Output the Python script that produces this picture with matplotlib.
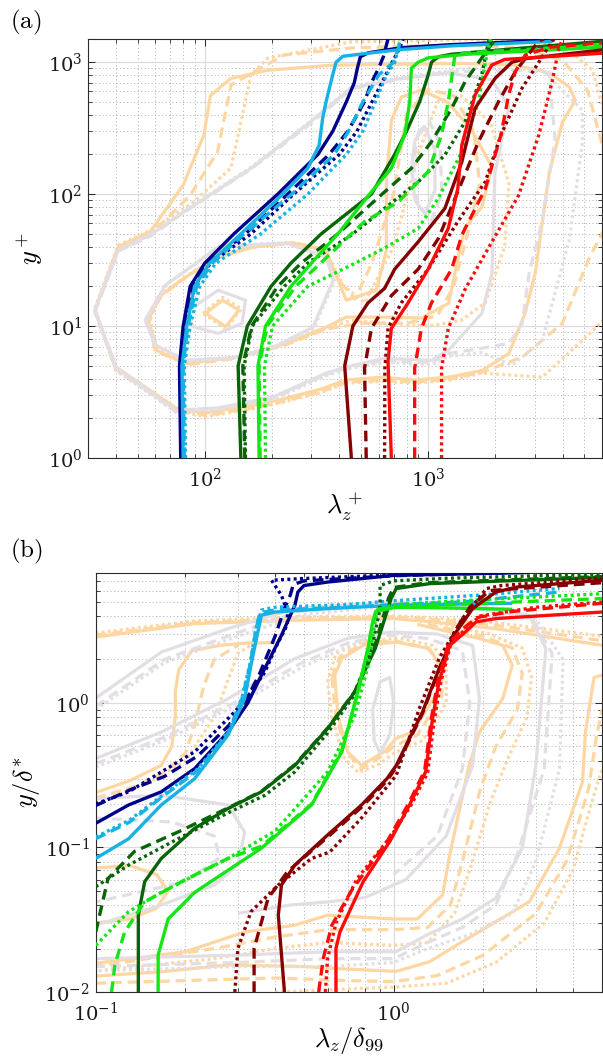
import numpy as np
import matplotlib
matplotlib.use("Agg")
import matplotlib.pyplot as plt
from matplotlib.ticker import LogLocator, NullFormatter, LogFormatterSciNotation

plt.rcParams['mathtext.fontset'] = 'cm'
plt.rcParams['font.family'] = ['DejaVu Serif']
plt.rcParams['axes.formatter.use_mathtext'] = True

# ---------------- colours ----------------
C_NAVY = '#00008B'
C_LBLUE = '#16B2E4'
C_DGREEN = '#076407'
C_LIME = '#14E614'
C_DRED = '#870000'
C_RED = '#FF0A0A'
C_OR = '#FDD6A2'
C_GR = '#E2DEE4'

# =============== PANEL (a) : lambda_z^+ vs y^+ ===============
A_XLIM = (30, 6000)
A_YLIM = (1, 1500)

# coloured curves (x = lambda_z^+, y = y^+)
A_NAVY_S_X = [78, 77, 80, 86, 100, 135, 212, 321, 374, 430, 467, 482, 497, 540, 760, 1276, 3600]
A_NAVY_S_Y = [1, 5, 10, 20, 30, 50, 100, 200, 300, 500, 700, 900, 1100, 1180, 1290, 1360, 1470]
A_NAVY_D_X = [79, 78, 81, 88, 103, 152, 235, 360, 437, 518, 557, 600, 630, 661]
A_NAVY_D_Y = [1, 5, 10, 20, 30, 50, 100, 200, 300, 500, 700, 900, 1100, 1500]
A_NAVY_P_X = [80, 79, 82, 90, 106, 161, 250, 400, 480, 560, 620, 690, 740, 773]
A_NAVY_P_Y = [1, 5, 10, 20, 30, 50, 100, 200, 300, 500, 700, 1000, 1250, 1500]

A_LB_S_X = [80, 79, 83, 90, 105, 145, 223, 289, 325, 337, 349, 374, 387, 415, 538, 760, 1276, 3600]
A_LB_S_Y = [1, 5, 10, 20, 30, 50, 100, 157, 235, 376, 502, 805, 1000, 1110, 1170, 1250, 1330, 1440]
A_LB_D_X = [81, 80, 84, 92, 108, 150, 245, 380, 440, 510, 600, 700, 760]
A_LB_D_Y = [1, 5, 10, 20, 30, 50, 100, 200, 300, 500, 800, 1000, 1500]
A_LB_P_X = [82, 81, 86, 95, 112, 178, 289, 430, 510, 580, 650, 710, 750]
A_LB_P_Y = [1, 5, 10, 20, 30, 50, 100, 200, 300, 500, 800, 1000, 1500]

A_DG_S_X = [145, 141, 155, 198, 243, 332, 557, 708, 800, 915, 1000, 1035, 1110, 1274, 2000, 6000]
A_DG_S_Y = [1, 5, 10, 20, 30, 50, 100, 200, 300, 500, 800, 1000, 1100, 1150, 1230, 1440]
A_DG_D_X = [151, 148, 162, 212, 270, 394, 638, 841, 1035, 1274, 1463, 1864, 2000]
A_DG_D_Y = [1, 5, 10, 20, 30, 50, 104, 157, 250, 448, 713, 1277, 1500]
A_DG_P_X = [152, 150, 163, 227, 289, 453, 638, 902, 1188, 1463, 1738, 1864, 1900]
A_DG_P_Y = [1, 5, 10, 20, 30, 49, 78, 124, 198, 354, 802, 1450, 1500]

A_LI_S_X = [175, 173, 187, 243, 300, 394, 557, 684, 785, 827, 841, 902, 1000, 1500, 6000]
A_LI_S_Y = [1, 5, 10, 20, 30, 50, 104, 157, 281, 502, 900, 1000, 1080, 1150, 1300]
A_LI_D_X = [177, 175, 190, 255, 330, 453, 519, 733, 1000, 1148, 1230, 1318, 1500, 6000]
A_LI_D_Y = [1, 5, 10, 20, 30, 50, 62, 87, 148, 281, 502, 1135, 1180, 1350]
A_LI_P_X = [187, 185, 201, 289, 453, 638, 902, 1110, 1415, 1680, 1802, 1850, 1900]
A_LI_P_Y = [1, 5, 10, 20, 29, 39, 55, 93, 210, 502, 1000, 1200, 1500]

A_DR_S_X = [453, 423, 460, 538, 638, 708, 902, 1188, 1415, 1622, 1995, 2372, 2723, 6000]
A_DR_S_Y = [1, 5, 10, 15, 19.3, 27, 43.5, 78, 176, 448, 756, 1000, 1064, 1240]
A_DR_D_X = [528, 519, 557, 684, 902, 1110, 1415, 1680, 2065, 2455, 3128, 3300]
A_DR_D_Y = [1, 4.8, 9.6, 17, 27, 46, 124, 250, 502, 849, 1450, 1500]
A_DR_P_X = [638, 640, 661, 758, 1000, 1357, 1802, 2117, 2630, 3128, 3590, 3700]
A_DR_P_Y = [1, 4.8, 9.6, 15, 27, 62, 124, 281, 635, 1000, 1450, 1500]

A_RE_S_X = [684, 661, 684, 813, 1000, 1230, 1357, 1415, 1622, 1928, 2200, 6000]
A_RE_S_Y = [1, 5.4, 9.6, 15, 27, 55, 110, 236, 565, 954, 1050, 1170]
A_RE_D_X = [870, 870, 933, 1035, 1274, 1415, 1802, 2117, 2293, 2455, 2723, 3500, 6000]
A_RE_D_Y = [1, 4.8, 9.6, 15, 27, 49, 110, 281, 565, 849, 1135, 1300, 1400]
A_RE_P_X = [1148, 1148, 1230, 1463, 1928, 2541, 3128, 3590, 3846, 4000]
A_RE_P_Y = [1, 4.8, 9.6, 19, 43.5, 98, 281, 713, 1277, 1500]

# background contours, panel (a)
A_OR_S_OUT_X = [32.2, 41, 57, 80, 99, 106, 131, 192, 372, 1414, 2448, 3483, 4283, 4557, 3985, 3483, 3012, 2714,
                2300, 1740, 1236, 869, 617, 430, 325, 188, 101, 74, 40, 32.2]
A_OR_S_OUT_Y = [13.2, 40, 52, 117, 280, 560, 755, 870, 950, 980, 950, 830, 650, 515, 350, 145, 25, 12.5,
                6.2, 4.6, 4.1, 3.9, 4.1, 3.9, 3.3, 2.6, 2.2, 2.4, 4.9, 13.2]
A_OR_D_OUT_X = [32.2, 41, 57, 86, 114, 131, 226, 452, 1414, 2634, 3985, 5160, 6100, 6100, 5270, 3985, 2634, 1740,
                1236, 869, 617, 430, 325, 188, 101, 74, 40, 32.2]
A_OR_D_OUT_Y = [12.8, 37.6, 49, 98, 209, 672, 1133, 1283, 1360, 1283, 1040, 617, 216, 53, 33, 10.5, 5.8, 4.47,
                3.97, 3.76, 3.88, 3.76, 3.14, 2.5, 2.1, 2.34, 4.7, 12.8]
A_OR_P_OUT_X = [32.2, 41, 57, 89, 131, 161, 192, 452, 1570, 3985, 5430, 6100, 6100, 4900, 3240, 1740, 1236, 869,
                617, 430, 325, 188, 101, 74, 40, 32.2]
A_OR_P_OUT_Y = [13.7, 41, 53, 87, 158, 802, 1078, 1427, 1480, 1360, 875, 434, 11.1, 7.8, 4.1, 4.4, 3.88, 3.7,
                3.8, 3.7, 3.1, 2.47, 2.05, 2.3, 4.6, 13.7]

A_GR_S_OUT_X = [32.2, 41, 57, 80, 161, 299, 452, 760, 1236, 1929, 2300, 1990, 1929, 1740, 1236, 1036, 637, 430,
                349, 202, 115, 74, 40, 32.2]
A_GR_S_OUT_Y = [13.2, 37.6, 49, 73, 157, 356, 640, 755, 830, 735, 460, 145, 25, 12.5, 6.6, 5.5, 5.7, 4.9,
                4.4, 2.9, 2.4, 2.3, 4.9, 13.2]
A_GR_D_OUT_X = [32.2, 41, 57, 80, 161, 299, 452, 760, 1236, 2634, 3483, 3700, 3240, 2830, 2634, 2300, 1740, 1236,
                1036, 637, 430, 349, 202, 115, 74, 40, 32.2]
A_GR_D_OUT_Y = [13, 37, 48, 72, 155, 344, 627, 747, 843, 870, 830, 257, 63, 25, 10.5, 7.4, 6.8, 6.2,
                5.3, 5.5, 4.8, 4.3, 2.84, 2.38, 2.26, 4.8, 13]
A_GR_P_OUT_X = [32.2, 41, 57, 80, 161, 299, 452, 760, 1570, 3240, 4900, 4900, 4283, 3240, 2370, 1740, 1236, 1036,
                637, 430, 349, 202, 115, 74, 40, 32.2]
A_GR_P_OUT_Y = [13.4, 38, 50, 74, 160, 359, 649, 773, 906, 870, 434, 244, 45, 7.8, 5.05, 6.3, 5.9, 5.1,
                5.3, 4.7, 4.2, 2.78, 2.33, 2.22, 4.7, 13.4]

A_OR_S_MID_X = [56, 62, 82, 115, 164, 248, 349, 379, 430, 586, 650, 650, 685, 760, 934, 1236, 1568, 1929, 1740,
                1459, 1315, 1236, 934, 617, 430, 349, 231, 137, 82, 60, 56]
A_OR_S_MID_Y = [11.1, 16.6, 23.5, 33.3, 39.7, 42.6, 37.6, 26.5, 15.7, 18.7, 37.6, 128, 365, 546, 617, 490, 304,
                161, 80, 56, 25.2, 14.9, 11.5, 11.7, 11.7, 9.8, 7.4, 5.8, 5.2, 6.6, 11.1]
A_OR_D_MID_X = [56, 64, 84, 118, 168, 250, 340, 400, 470, 560, 700, 800, 1000, 1300, 1600, 1700, 1500, 1300,
                1100, 800, 500, 350, 230, 140, 84, 60, 56]
A_OR_D_MID_Y = [11.5, 17, 24, 34, 40, 43, 38, 22, 16, 30, 100, 400, 620, 560, 300, 120, 50, 20,
                12, 10.5, 10.5, 9.5, 7.2, 5.7, 5.1, 6.5, 11.5]
A_OR_P_MID_X = [57, 63, 83, 116, 166, 250, 345, 420, 520, 700, 900, 1100, 1400, 1900, 2300, 2200, 1800, 1400,
                1000, 700, 450, 345, 232, 138, 83, 61, 57]
A_OR_P_MID_Y = [11.3, 17, 24, 34, 40, 43, 37, 20, 15, 40, 200, 500, 560, 350, 120, 40, 15, 11,
                10, 10.5, 11, 9.6, 7.3, 5.8, 5.2, 6.6, 11.3]

A_GR_S_MID_X = [54, 66.6, 115, 231, 349, 376, 305, 202, 137, 82, 60, 54]
A_GR_S_MID_Y = [11.1, 20.4, 39.7, 42.6, 33.3, 22.3, 9.8, 6.9, 5.8, 5.5, 7.2, 11.1]
A_GR_P_MID_X = [55, 68, 117, 233, 352, 380, 308, 204, 138, 83, 61, 55]
A_GR_P_MID_Y = [11.4, 21, 40.5, 43, 33, 22, 9.6, 6.8, 5.7, 5.4, 7.1, 11.4]

A_GR_S_LOOP_X = [872, 966, 1072, 1072, 966, 872, 843, 872]
A_GR_S_LOOP_Y = [256, 323, 216, 107, 71, 90, 161, 256]
A_GR_D_LOOP_X = [900, 1010, 1130, 1150, 1030, 900, 860, 900]
A_GR_D_LOOP_Y = [290, 360, 240, 100, 62, 85, 170, 290]

A_OR_S_IN_X = [101, 120, 142, 124, 101]
A_OR_S_IN_Y = [12.5, 15.7, 13.2, 9.9, 12.5]
A_OR_P_IN_X = [98, 120, 146, 124, 98]
A_OR_P_IN_Y = [12.5, 16.5, 13.5, 9.5, 12.5]
A_GR_S_IN_X = [84.5, 115, 152, 147, 115, 88, 84.5]
A_GR_S_IN_Y = [13.2, 18.7, 15.7, 10.5, 8.8, 9.9, 13.2]

# =============== PANEL (b) : lambda_z/delta99 vs y/delta* ===============
B_XLIM = (0.1, 5)
B_YLIM = (0.01, 8)

B_NAVY_S_X = [0.1, 0.129, 0.166, 0.215, 0.278, 0.324, 0.36, 0.42, 0.466, 0.477, 0.50, 0.60, 1.0, 2.85]
B_NAVY_S_Y = [0.147, 0.197, 0.243, 0.352, 0.63, 1.0, 1.56, 2.94, 4.74, 5.86, 6.5, 6.87, 7.64, 8.0]
B_NAVY_D_X = [0.1, 0.13, 0.17, 0.22, 0.28, 0.32, 0.355, 0.40, 0.43, 0.45, 0.46, 0.50, 1.0, 2.5]
B_NAVY_D_Y = [0.195, 0.25, 0.31, 0.43, 0.70, 1.05, 1.6, 2.9, 4.5, 5.6, 6.6, 7.0, 7.6, 8.0]
B_NAVY_P_X = [0.1, 0.129, 0.215, 0.293, 0.332, 0.37, 0.40, 0.44, 0.44, 0.42, 0.389, 0.49, 1.0, 2.0]
B_NAVY_P_Y = [0.2, 0.243, 0.46, 0.87, 1.19, 1.64, 2.38, 3.5, 4.26, 5.56, 7.07, 7.26, 7.7, 8.0]

B_LB_S_X = [0.1, 0.129, 0.166, 0.215, 0.278, 0.316, 0.332, 0.35, 0.36, 0.40, 0.60, 1.0, 1.7, 2.5]
B_LB_S_Y = [0.084, 0.115, 0.197, 0.30, 0.60, 1.07, 1.83, 3.1, 4.05, 4.26, 4.5, 4.74, 4.85, 4.9]
B_LB_D_X = [0.1, 0.13, 0.17, 0.22, 0.28, 0.31, 0.33, 0.345, 0.355, 0.40, 0.7, 1.0, 1.7, 3.6]
B_LB_D_Y = [0.115, 0.15, 0.23, 0.34, 0.63, 1.08, 1.85, 3.2, 4.2, 4.4, 4.6, 4.8, 5.0, 5.86]
B_LB_P_X = [0.1, 0.13, 0.17, 0.22, 0.28, 0.31, 0.33, 0.345, 0.36, 0.40, 0.7, 1.0, 2.0, 3.6]
B_LB_P_Y = [0.118, 0.155, 0.235, 0.35, 0.64, 1.1, 1.9, 3.3, 4.4, 4.6, 4.8, 5.1, 5.6, 6.2]

B_DG_S_X = [0.139, 0.139, 0.146, 0.166, 0.215, 0.278, 0.36, 0.466, 0.6, 0.74, 0.867, 0.98, 1.02, 1.32, 5.0]
B_DG_S_Y = [0.01, 0.034, 0.058, 0.084, 0.136, 0.186, 0.243, 0.37, 0.666, 1.19, 2.38, 5.28, 6.2, 6.7, 7.4]
B_DG_D_X = [0.1, 0.11, 0.135, 0.189, 0.278, 0.36, 0.466, 0.6, 0.74, 0.86, 0.96, 1.0, 1.3, 5.0]
B_DG_D_Y = [0.026, 0.061, 0.094, 0.128, 0.188, 0.245, 0.375, 0.67, 1.2, 2.4, 5.3, 6.3, 6.8, 7.5]
B_DG_P_X = [0.1, 0.129, 0.189, 0.28, 0.37, 0.466, 0.6, 0.73, 0.84, 0.90, 0.90, 1.0, 1.5, 5.0]
B_DG_P_Y = [0.0535, 0.0756, 0.115, 0.175, 0.23, 0.334, 0.62, 1.1, 2.3, 4.5, 6.5, 7.0, 7.3, 7.8]

B_LI_S_X = [0.162, 0.162, 0.175, 0.215, 0.36, 0.53, 0.67, 0.757, 0.82, 0.85, 0.87, 1.02, 1.5, 2.5]
B_LI_S_Y = [0.01, 0.018, 0.032, 0.049, 0.099, 0.197, 0.46, 1.19, 2.38, 3.64, 4.3, 4.6, 4.55, 4.45]
B_LI_D_X = [0.113, 0.116, 0.125, 0.146, 0.2, 0.278, 0.36, 0.53, 0.67, 0.76, 0.82, 0.85, 0.9, 1.32, 5.0]
B_LI_D_Y = [0.01, 0.0154, 0.026, 0.042, 0.06, 0.084, 0.102, 0.2, 0.47, 1.2, 2.4, 3.6, 4.5, 4.74, 5.28]
B_LI_P_X = [0.1, 0.129, 0.166, 0.278, 0.4, 0.6, 0.74, 0.82, 0.86, 0.88, 1.0, 2.0, 5.0]
B_LI_P_Y = [0.021, 0.036, 0.049, 0.084, 0.13, 0.334, 0.82, 1.8, 3.3, 4.4, 4.8, 5.2, 5.7]

B_DR_S_X = [0.43, 0.41, 0.42, 0.466, 0.6, 0.78, 0.95, 1.02, 1.25, 1.42, 1.62, 1.84, 2.2, 2.6, 5.0]
B_DR_S_Y = [0.01, 0.034, 0.055, 0.0756, 0.122, 0.197, 0.30, 0.37, 0.87, 1.73, 3.1, 4.5, 5.86, 6.35, 7.07]
B_DR_D_X = [0.34, 0.34, 0.379, 0.44, 0.6, 0.78, 0.95, 1.02, 1.25, 1.42, 1.6, 1.8, 2.1, 5.0]
B_DR_D_Y = [0.01, 0.02, 0.0446, 0.068, 0.118, 0.19, 0.29, 0.36, 0.85, 1.7, 3.1, 4.6, 6.0, 6.8]
B_DR_P_X = [0.293, 0.30, 0.332, 0.41, 0.53, 0.61, 0.78, 1.02, 1.22, 1.42, 1.7, 2.05, 2.3, 5.0]
B_DR_P_Y = [0.01, 0.02, 0.036, 0.055, 0.084, 0.093, 0.16, 0.316, 0.92, 2.03, 3.84, 6.2, 6.5, 7.3]

B_RE_S_X = [0.64, 0.64, 0.66, 0.79, 0.97, 1.13, 1.28, 1.35, 1.42, 1.54, 1.74, 1.89, 2.2, 5.0]
B_RE_S_Y = [0.01, 0.02, 0.026, 0.058, 0.11, 0.197, 0.334, 0.78, 1.4, 2.5, 3.1, 3.64, 3.84, 4.26]
B_RE_D_X = [0.56, 0.58, 0.62, 0.72, 0.95, 1.12, 1.27, 1.34, 1.41, 1.53, 1.72, 1.9, 2.5, 5.0]
B_RE_D_Y = [0.01, 0.017, 0.029, 0.05, 0.11, 0.2, 0.34, 0.8, 1.45, 2.6, 3.3, 3.9, 4.3, 4.9]
B_RE_P_X = [0.59, 0.60, 0.64, 0.75, 0.98, 1.15, 1.3, 1.37, 1.44, 1.55, 1.75, 1.95, 3.0, 5.0]
B_RE_P_Y = [0.01, 0.017, 0.03, 0.06, 0.12, 0.2, 0.33, 0.77, 1.4, 2.5, 3.3, 4.0, 4.6, 5.0]

# background contours, panel (b)
B_OR_S_TOP_X = [0.1, 0.215, 0.466, 1.0, 1.35, 2.2, 5.0]
B_OR_S_TOP_Y = [2.86, 3.54, 3.74, 3.84, 3.64, 3.27, 2.51]
B_OR_S_IN_X = [1.2, 1.94, 2.32, 2.5, 2.32, 1.94, 1.79, 1.54, 1.46, 1.2, 1.0, 0.6, 0.466, 0.316, 0.2, 0.1]
B_OR_S_IN_Y = [3.5, 2.79, 2.51, 1.83, 1.07, 0.63, 0.37, 0.088, 0.047, 0.032, 0.032, 0.034, 0.029, 0.026, 0.019, 0.0158]
B_OR_S_OUT_X = [0.1, 0.166, 0.278, 0.5, 0.61, 1.02, 1.32, 1.7, 2.85, 3.6, 4.3, 4.4, 4.7, 5.0]
B_OR_S_OUT_Y = [0.0129, 0.0138, 0.0154, 0.015, 0.0146, 0.0139, 0.0162, 0.0223, 0.0421, 0.099, 0.284, 0.63, 1.5, 1.56]
B_OR_S_MID_X = [0.634, 0.67, 0.79, 1.02, 1.32, 1.42, 1.4, 1.16, 1.02, 0.93, 0.78, 0.70, 0.65, 0.634]
B_OR_S_MID_Y = [1.56, 2.03, 2.51, 2.64, 2.38, 1.83, 1.19, 0.63, 0.57, 0.46, 0.37, 0.46, 0.82, 1.56]
B_OR_S_LEFT_X = [0.1, 0.13, 0.166, 0.18, 0.185, 0.185, 0.19, 0.21, 0.26, 0.32, 0.4]
B_OR_S_LEFT_Y = [0.24, 0.29, 0.37, 0.5, 0.8, 1.2, 1.7, 2.3, 2.5, 2.6, 2.62]
B_OR_S_LOOP_X = [0.1, 0.13, 0.16, 0.175, 0.16, 0.13, 0.1]
B_OR_S_LOOP_Y = [0.072, 0.075, 0.065, 0.05, 0.038, 0.032, 0.03]

B_OR_D_TOP_X = [0.1, 0.215, 0.466, 1.0, 1.35, 2.2, 5.0]
B_OR_D_TOP_Y = [2.95, 3.6, 3.85, 3.95, 3.8, 3.45, 2.7]
B_OR_D_IN_X = [1.3, 2.0, 2.5, 2.7, 2.6, 2.2, 1.95, 1.7, 1.55, 1.3, 1.0, 0.6, 0.4, 0.25, 0.1]
B_OR_D_IN_Y = [3.5, 2.9, 2.4, 1.6, 0.9, 0.5, 0.25, 0.08, 0.04, 0.028, 0.027, 0.027, 0.024, 0.02, 0.015]
B_OR_D_OUT_X = [0.1, 0.2, 0.4, 0.7, 1.0, 1.4, 2.0, 3.0, 3.8, 4.5, 4.8, 5.0]
B_OR_D_OUT_Y = [0.0115, 0.012, 0.0125, 0.012, 0.0118, 0.013, 0.018, 0.035, 0.08, 0.25, 0.6, 0.9]
B_OR_D_MID_X = [0.62, 0.66, 0.8, 1.0, 1.3, 1.45, 1.45, 1.2, 1.0, 0.9, 0.78, 0.70, 0.64, 0.62]
B_OR_D_MID_Y = [1.5, 2.1, 2.6, 2.7, 2.4, 1.8, 1.1, 0.6, 0.5, 0.42, 0.35, 0.45, 0.8, 1.5]
B_OR_D_LEFT_X = [0.1, 0.14, 0.17, 0.2, 0.215, 0.23, 0.25, 0.3]
B_OR_D_LEFT_Y = [0.22, 0.27, 0.33, 0.45, 0.7, 1.3, 2.0, 2.5]

B_OR_P_TOP_X = [0.1, 0.215, 0.466, 1.0, 1.35, 2.2, 5.0]
B_OR_P_TOP_Y = [3.05, 3.7, 3.95, 4.0, 3.9, 3.6, 2.9]
B_OR_P_IN_X = [1.3, 2.1, 2.7, 2.9, 2.8, 2.4, 2.1, 1.8, 1.6, 1.3, 1.0, 0.6, 0.4, 0.25, 0.1]
B_OR_P_IN_Y = [3.7, 3.0, 2.4, 1.5, 0.8, 0.4, 0.2, 0.07, 0.035, 0.022, 0.021, 0.022, 0.02, 0.017, 0.014]
B_OR_P_OUT_X = [0.4, 0.7, 1.0, 1.5, 2.2, 3.2, 4.0, 4.6, 5.0]
B_OR_P_OUT_Y = [0.01, 0.0105, 0.0108, 0.0115, 0.016, 0.03, 0.07, 0.2, 0.35]
B_OR_P_MID_X = [0.6, 0.64, 0.8, 1.05, 1.35, 1.5, 1.5, 1.25, 1.0, 0.9, 0.76, 0.68, 0.62, 0.6]
B_OR_P_MID_Y = [1.4, 2.2, 2.7, 2.8, 2.5, 1.9, 1.0, 0.55, 0.45, 0.38, 0.33, 0.42, 0.8, 1.4]
B_OR_P_LEFT_X = [0.1, 0.13, 0.16, 0.2, 0.25, 0.28, 0.3, 0.34]
B_OR_P_LEFT_Y = [0.205, 0.25, 0.3, 0.4, 0.8, 1.5, 2.2, 2.6]

B_GR_S_BIG_X = [0.1, 0.166, 0.278, 0.466, 1.0, 2.0, 2.85, 3.24, 3.0, 2.7, 2.2, 1.7, 1.3, 1.02, 0.61, 0.3, 0.1]
B_GR_S_BIG_Y = [1.08, 2.25, 3.27, 4.5, 5.0, 4.6, 4.05, 2.38, 0.37, 0.099, 0.0446, 0.032, 0.025, 0.019, 0.019, 0.018, 0.017]
B_GR_S_DIAG_X = [0.1, 0.166, 0.278, 0.466, 0.7, 0.98, 1.4, 1.84, 1.94, 1.84, 1.5, 1.1, 0.8, 0.6, 0.45, 0.3]
B_GR_S_DIAG_Y = [0.413, 0.63, 1.07, 2.03, 2.8, 3.1, 3.0, 2.5, 1.07, 0.37, 0.12, 0.06, 0.045, 0.042, 0.04, 0.035]
B_GR_S_LL_X = [0.1, 0.166, 0.278, 0.316, 0.30, 0.25, 0.166, 0.1]
B_GR_S_LL_Y = [0.218, 0.23, 0.197, 0.128, 0.0756, 0.055, 0.04, 0.029]
B_GR_S_MID_X = [0.85, 0.9, 0.97, 1.0, 0.97, 0.9, 0.86, 0.85]
B_GR_S_MID_Y = [0.9, 1.4, 1.5, 1.0, 0.6, 0.45, 0.55, 0.9]

B_GR_D_BIG_X = [0.1, 0.17, 0.29, 0.48, 1.0, 2.0, 2.9, 3.4, 3.2, 2.6, 2.2, 1.7, 1.3, 1.0, 0.6, 0.3, 0.1]
B_GR_D_BIG_Y = [0.95, 2.0, 3.0, 4.3, 4.9, 4.5, 3.9, 2.2, 0.35, 0.09, 0.04, 0.028, 0.022, 0.017, 0.017, 0.016, 0.015]
B_GR_D_DIAG_X = [0.1, 0.17, 0.29, 0.48, 0.7, 0.95, 1.3, 1.7, 1.8, 1.7, 1.4, 1.0]
B_GR_D_DIAG_Y = [0.38, 0.58, 1.0, 1.85, 2.6, 2.95, 2.8, 2.3, 1.0, 0.35, 0.12, 0.065]
B_GR_D_LL_X = [0.1, 0.18, 0.25, 0.26, 0.2, 0.1]
B_GR_D_LL_Y = [0.16, 0.15, 0.12, 0.085, 0.058, 0.042]

B_GR_P_BIG_X = [0.1, 0.17, 0.3, 0.5, 1.0, 2.0, 3.0, 3.7, 3.6, 3.0, 2.5, 1.8, 1.3, 1.0, 0.6, 0.3, 0.1]
B_GR_P_BIG_Y = [0.9, 1.9, 2.9, 4.1, 4.7, 4.4, 3.8, 2.0, 0.35, 0.08, 0.035, 0.025, 0.02, 0.016, 0.015, 0.015, 0.014]
B_GR_P_DIAG_X = [0.1, 0.17, 0.3, 0.5, 0.75]
B_GR_P_DIAG_Y = [0.36, 0.55, 0.98, 1.8, 2.6]

# ---------------- styles ----------------
LS = {'S': '-', 'D': (0, (3.2, 1.8)), 'P': (0, (0.9, 1.0))}

A_CONTOURS = [
    (A_OR_S_OUT_X, A_OR_S_OUT_Y, C_OR, 'S'), (A_OR_D_OUT_X, A_OR_D_OUT_Y, C_OR, 'D'),
    (A_OR_P_OUT_X, A_OR_P_OUT_Y, C_OR, 'P'),
    (A_OR_S_MID_X, A_OR_S_MID_Y, C_OR, 'S'), (A_OR_D_MID_X, A_OR_D_MID_Y, C_OR, 'D'),
    (A_OR_P_MID_X, A_OR_P_MID_Y, C_OR, 'P'),
    (A_OR_S_IN_X, A_OR_S_IN_Y, C_OR, 'S'), (A_OR_P_IN_X, A_OR_P_IN_Y, C_OR, 'P'),
    (A_GR_S_OUT_X, A_GR_S_OUT_Y, C_GR, 'S'), (A_GR_D_OUT_X, A_GR_D_OUT_Y, C_GR, 'D'),
    (A_GR_P_OUT_X, A_GR_P_OUT_Y, C_GR, 'P'),
    (A_GR_S_MID_X, A_GR_S_MID_Y, C_GR, 'S'), (A_GR_P_MID_X, A_GR_P_MID_Y, C_GR, 'P'),
    (A_GR_S_LOOP_X, A_GR_S_LOOP_Y, C_GR, 'S'), (A_GR_D_LOOP_X, A_GR_D_LOOP_Y, C_GR, 'D'),
    (A_GR_S_IN_X, A_GR_S_IN_Y, C_GR, 'S'),
]
A_LINES = [
    (A_NAVY_S_X, A_NAVY_S_Y, C_NAVY, 'S'), (A_NAVY_D_X, A_NAVY_D_Y, C_NAVY, 'D'), (A_NAVY_P_X, A_NAVY_P_Y, C_NAVY, 'P'),
    (A_LB_S_X, A_LB_S_Y, C_LBLUE, 'S'), (A_LB_D_X, A_LB_D_Y, C_LBLUE, 'D'), (A_LB_P_X, A_LB_P_Y, C_LBLUE, 'P'),
    (A_DG_S_X, A_DG_S_Y, C_DGREEN, 'S'), (A_DG_D_X, A_DG_D_Y, C_DGREEN, 'D'), (A_DG_P_X, A_DG_P_Y, C_DGREEN, 'P'),
    (A_LI_S_X, A_LI_S_Y, C_LIME, 'S'), (A_LI_D_X, A_LI_D_Y, C_LIME, 'D'), (A_LI_P_X, A_LI_P_Y, C_LIME, 'P'),
    (A_DR_S_X, A_DR_S_Y, C_DRED, 'S'), (A_DR_D_X, A_DR_D_Y, C_DRED, 'D'), (A_DR_P_X, A_DR_P_Y, C_DRED, 'P'),
    (A_RE_S_X, A_RE_S_Y, C_RED, 'S'), (A_RE_D_X, A_RE_D_Y, C_RED, 'D'), (A_RE_P_X, A_RE_P_Y, C_RED, 'P'),
]
B_CONTOURS = [
    (B_OR_S_TOP_X, B_OR_S_TOP_Y, C_OR, 'S'), (B_OR_S_IN_X, B_OR_S_IN_Y, C_OR, 'S'),
    (B_OR_S_OUT_X, B_OR_S_OUT_Y, C_OR, 'S'), (B_OR_S_MID_X, B_OR_S_MID_Y, C_OR, 'S'),
    (B_OR_S_LEFT_X, B_OR_S_LEFT_Y, C_OR, 'S'), (B_OR_S_LOOP_X, B_OR_S_LOOP_Y, C_OR, 'S'),
    (B_OR_D_TOP_X, B_OR_D_TOP_Y, C_OR, 'D'), (B_OR_D_IN_X, B_OR_D_IN_Y, C_OR, 'D'),
    (B_OR_D_OUT_X, B_OR_D_OUT_Y, C_OR, 'D'), (B_OR_D_MID_X, B_OR_D_MID_Y, C_OR, 'D'),
    (B_OR_D_LEFT_X, B_OR_D_LEFT_Y, C_OR, 'D'),
    (B_OR_P_TOP_X, B_OR_P_TOP_Y, C_OR, 'P'), (B_OR_P_IN_X, B_OR_P_IN_Y, C_OR, 'P'),
    (B_OR_P_OUT_X, B_OR_P_OUT_Y, C_OR, 'P'), (B_OR_P_MID_X, B_OR_P_MID_Y, C_OR, 'P'),
    (B_OR_P_LEFT_X, B_OR_P_LEFT_Y, C_OR, 'P'),
    (B_GR_S_BIG_X, B_GR_S_BIG_Y, C_GR, 'S'), (B_GR_S_DIAG_X, B_GR_S_DIAG_Y, C_GR, 'S'),
    (B_GR_S_LL_X, B_GR_S_LL_Y, C_GR, 'S'), (B_GR_S_MID_X, B_GR_S_MID_Y, C_GR, 'S'),
    (B_GR_D_BIG_X, B_GR_D_BIG_Y, C_GR, 'D'), (B_GR_D_DIAG_X, B_GR_D_DIAG_Y, C_GR, 'D'),
    (B_GR_D_LL_X, B_GR_D_LL_Y, C_GR, 'D'),
    (B_GR_P_BIG_X, B_GR_P_BIG_Y, C_GR, 'P'), (B_GR_P_DIAG_X, B_GR_P_DIAG_Y, C_GR, 'P'),
]
B_LINES = [
    (B_NAVY_S_X, B_NAVY_S_Y, C_NAVY, 'S'), (B_NAVY_D_X, B_NAVY_D_Y, C_NAVY, 'D'), (B_NAVY_P_X, B_NAVY_P_Y, C_NAVY, 'P'),
    (B_LB_S_X, B_LB_S_Y, C_LBLUE, 'S'), (B_LB_D_X, B_LB_D_Y, C_LBLUE, 'D'), (B_LB_P_X, B_LB_P_Y, C_LBLUE, 'P'),
    (B_DG_S_X, B_DG_S_Y, C_DGREEN, 'S'), (B_DG_D_X, B_DG_D_Y, C_DGREEN, 'D'), (B_DG_P_X, B_DG_P_Y, C_DGREEN, 'P'),
    (B_LI_S_X, B_LI_S_Y, C_LIME, 'S'), (B_LI_D_X, B_LI_D_Y, C_LIME, 'D'), (B_LI_P_X, B_LI_P_Y, C_LIME, 'P'),
    (B_DR_S_X, B_DR_S_Y, C_DRED, 'S'), (B_DR_D_X, B_DR_D_Y, C_DRED, 'D'), (B_DR_P_X, B_DR_P_Y, C_DRED, 'P'),
    (B_RE_S_X, B_RE_S_Y, C_RED, 'S'), (B_RE_D_X, B_RE_D_Y, C_RED, 'D'), (B_RE_P_X, B_RE_P_Y, C_RED, 'P'),
]

fig = plt.figure(figsize=(6.03, 10.59), dpi=100)
axA = fig.add_axes([88 / 603, 1 - 458 / 1059, 514 / 603, 419 / 1059])
axB = fig.add_axes([95.7 / 603, 1 - 992 / 1059, 506.3 / 603, 419.5 / 1059])


def style_axes(ax, xlim, ylim):
    ax.set_xscale('log')
    ax.set_yscale('log')
    ax.set_xlim(*xlim)
    ax.set_ylim(*ylim)
    for axis in (ax.xaxis, ax.yaxis):
        axis.set_major_locator(LogLocator(base=10, numticks=20))
        axis.set_minor_locator(LogLocator(base=10, subs=np.arange(2, 10), numticks=100))
        axis.set_minor_formatter(NullFormatter())
        axis.set_major_formatter(LogFormatterSciNotation())
    ax.set_axisbelow(True)
    ax.grid(True, which='major', color='#DCDCDC', lw=0.9, ls='-')
    ax.grid(True, which='minor', color='#BABABA', lw=0.7, ls=(0, (1.2, 2.4)))
    ax.tick_params(which='both', direction='in', top=True, right=True, colors='#262626',
                   labelsize=14, labelcolor='#1a1a1a')
    ax.tick_params(which='major', length=5, width=0.7, pad=4)
    ax.tick_params(which='minor', length=3, width=0.6)
    ax.tick_params(axis='x', which='major', pad=7)
    for sp in ax.spines.values():
        sp.set_color('#2b2b2b')
        sp.set_linewidth(0.8)


def draw(ax, items, lw, z):
    for xs, ys, col, st in items:
        ax.plot(xs, ys, color=col, ls=LS[st], lw=lw, zorder=z,
                solid_capstyle='butt', dash_capstyle='butt', solid_joinstyle='round')


style_axes(axA, A_XLIM, A_YLIM)
style_axes(axB, B_XLIM, B_YLIM)

draw(axA, A_CONTOURS, 2.3, 2)
draw(axA, A_LINES, 2.4, 3)
draw(axB, B_CONTOURS, 2.3, 2)
draw(axB, B_LINES, 2.4, 3)

axA.set_xlabel(r'$\lambda_z^+$', fontsize=19, labelpad=0)
axA.set_ylabel(r'$y^+$', fontsize=19, labelpad=2)
axB.set_xlabel(r'$\lambda_z/\delta_{99}$', fontsize=19, labelpad=0)
axB.set_ylabel(r'$y/\delta^{*}$', fontsize=19, labelpad=2)

fig.text(10 / 603, 1 - 22 / 1059, r'$\mathrm{(a)}$', fontsize=18, va='center', ha='left')
fig.text(10 / 603, 1 - 551 / 1059, r'$\mathrm{(b)}$', fontsize=18, va='center', ha='left')

fig.savefig('out.png', dpi=100)
